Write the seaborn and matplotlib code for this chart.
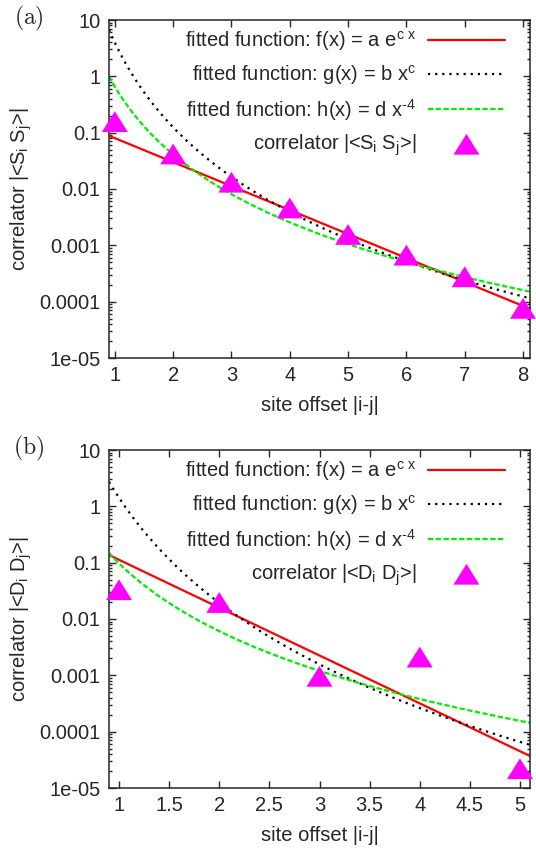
import numpy as np
import pandas as pd
import matplotlib
matplotlib.use("Agg")
import matplotlib.pyplot as plt
from matplotlib.ticker import FixedLocator, FixedFormatter, LogLocator, NullFormatter
from matplotlib.path import Path
import seaborn as sns

# ---------------- data ----------------
# panel (a): spin correlator
sites_a = [1, 2, 3, 4, 5, 6, 7, 8]
corr_S = [0.157, 0.0418, 0.0132, 0.0046, 0.00156, 0.00067, 0.000277, 7.6e-5]
# fit parameters (a, c) for f=a e^{cx}; (b, c) for g=b x^c; d for h=d x^-4
fit_a_exp = [0.213, -0.98]
fit_a_pow = [3.96, -4.99]
fit_a_h4 = [0.656]

# panel (b): dimer correlator
sites_b = [1, 2, 3, 4, 5]
corr_D = [0.0331, 0.0196, 0.00096, 0.00211, 2.2e-5]
fit_b_exp = [0.795, -1.956]
fit_b_pow = [1.42, -6.20]
fit_b_h4 = [0.0972]

ytick_vals = [1e-5, 1e-4, 1e-3, 1e-2, 1e-1, 1, 10]
ytick_labels = ["1e-05", "0.0001", "0.001", "0.01", "0.1", "1", "10"]
xtick_a = [1, 2, 3, 4, 5, 6, 7, 8]
xtick_a_labels = ["1", "2", "3", "4", "5", "6", "7", "8"]
xtick_b = [1, 1.5, 2, 2.5, 3, 3.5, 4, 4.5, 5]
xtick_b_labels = ["1", "1.5", "2", "2.5", "3", "3.5", "4", "4.5", "5"]

label_f = r"fitted function: f(x) = a e$^{\mathrm{c\ x}}$"
label_g = r"fitted function: g(x) = b x$^{\mathrm{c}}$"
label_h = r"fitted function: h(x) = d x$^{\mathrm{\text{-}4}}$"
label_S = r"correlator |<S$_{\mathrm{i}}$ S$_{\mathrm{j}}$>|"
label_D = r"correlator |<D$_{\mathrm{i}}$ D$_{\mathrm{j}}$>|"
ylabel_a = r"correlator |<S$_{\mathrm{i}}$ S$_{\mathrm{j}}$>|"
ylabel_b = r"correlator |<D$_{\mathrm{i}}$ D$_{\mathrm{j}}$>|"
xlabel = "site offset |i-j|"

# ---------------- style ----------------
sns.set_style("ticks")
plt.rcParams["font.family"] = ["Liberation Sans", "DejaVu Sans"]
plt.rcParams["mathtext.fontset"] = "custom"
plt.rcParams["mathtext.rm"] = "Liberation Sans"
plt.rcParams["mathtext.it"] = "Liberation Sans"
plt.rcParams["mathtext.default"] = "rm"
FS = 14.5

RED = "#ff0000"
GREEN = "#00ee00"
BLACK = "#000000"
MAG = "#ff00ff"

tri = Path([(-1, -0.8), (1, -0.8), (0, 0.8), (-1, -0.8)],
           [Path.MOVETO, Path.LINETO, Path.LINETO, Path.CLOSEPOLY])

fig = plt.figure(figsize=(5.36, 8.48), dpi=100)
ax_a = fig.add_axes([109 / 536, 1 - 358 / 848, 421 / 536, 338 / 848])
ax_b = fig.add_axes([109 / 536, 1 - 788 / 848, 421 / 536, 338 / 848])


def panel(ax, xs, ys, pexp, ppow, ph4, lab_pts, xlim, xt, xtl, ylab, tag, ytag):
    xx = np.linspace(xlim[0], xlim[1], 400)
    df = pd.DataFrame({
        "x": xx,
        "f": pexp[0] * np.exp(pexp[1] * xx),
        "g": ppow[0] * xx ** ppow[1],
        "h": ph4[0] * xx ** -4.0,
    })
    sns.lineplot(data=df, x="x", y="f", ax=ax, color=RED, lw=1.6,
                 label=label_f, sort=False)
    sns.lineplot(data=df, x="x", y="g", ax=ax, color=BLACK, lw=1.6,
                 linestyle=(0, (1, 2.2)), label=label_g, sort=False)
    sns.lineplot(data=df, x="x", y="h", ax=ax, color=GREEN, lw=1.6,
                 linestyle=(0, (2.4, 1.1)), label=label_h, sort=False)
    sns.scatterplot(x=xs, y=ys, ax=ax, marker=tri, s=18.7 ** 2, color=MAG,
                    edgecolor="none", label=lab_pts, zorder=5, clip_on=False)
    ax.set_yscale("log")
    ax.set_ylim(1e-5, 10)
    ax.set_xlim(*xlim)
    ax.yaxis.set_major_locator(FixedLocator(ytick_vals))
    ax.yaxis.set_major_formatter(FixedFormatter(ytick_labels))
    ax.yaxis.set_minor_locator(LogLocator(base=10, subs=(2, 3, 4, 5, 6, 7, 8, 9)))
    ax.yaxis.set_minor_formatter(NullFormatter())
    ax.xaxis.set_major_locator(FixedLocator(xt))
    ax.xaxis.set_major_formatter(FixedFormatter(xtl))
    ax.tick_params(which="both", direction="in", top=True, right=True,
                   labelsize=FS, width=1.0, pad=6)
    ax.tick_params(which="major", length=5)
    ax.tick_params(which="minor", length=2.5)
    for sp in ax.spines.values():
        sp.set_linewidth(1.1)
    ax.set_xlabel(xlabel, fontsize=FS, labelpad=8)
    ax.set_ylabel(ylab, fontsize=FS, labelpad=4)
    ax.legend(loc="upper right", bbox_to_anchor=(0.94, 0.972),
              frameon=False, markerfirst=False, fontsize=FS,
              handlelength=3.8, handletextpad=0.6, labelspacing=0.48,
              borderpad=0, borderaxespad=0)
    fig.text(29 / 536, 1 - ytag / 848, r"$\mathrm{(%s)}$" % tag,
             fontsize=17, math_fontfamily="cm", ha="center", va="center")


panel(ax_a, sites_a, corr_S, fit_a_exp, fit_a_pow, fit_a_h4, label_S,
      (0.9, 8.12), xtick_a, xtick_a_labels, ylabel_a, "a", 18)
panel(ax_b, sites_b, corr_D, fit_b_exp, fit_b_pow, fit_b_h4, label_D,
      (0.9, 5.1), xtick_b, xtick_b_labels, ylabel_b, "b", 448)

fig.savefig("out.png", dpi=100)
